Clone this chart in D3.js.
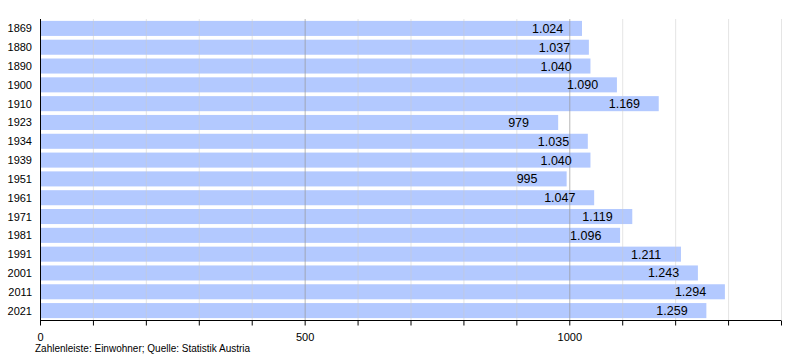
<!DOCTYPE html>
<html><head><meta charset="utf-8">
<script src="https://cdn.jsdelivr.net/npm/d3@7"></script>
<style>body{margin:0;background:#fff}svg{display:block;font-family:"Liberation Sans",Arial,sans-serif}</style>
</head><body><svg id="c" width="800" height="360"></svg>
<script>
const years = ["1869","1880","1890","1900","1910","1923","1934","1939","1951","1961","1971","1981","1991","2001","2011","2021"];
const population = [1024,1037,1040,1090,1169,979,1035,1040,995,1047,1119,1096,1211,1243,1294,1259];
const valueLabels = ["1.024","1.037","1.040","1.090","1.169","979","1.035","1.040","995","1.047","1.119","1.096","1.211","1.243","1.294","1.259"];
const xTickLabels = [0,500,1000];
const footer = "Zahlenleiste: Einwohner; Quelle: Statistik Austria";

const svg = d3.select("#c");
const x = d3.scaleLinear().domain([0,1400]).range([40,781]);
const y = d3.scaleBand().domain(years).range([19,320]).paddingInner(0.2).paddingOuter(0.1);

// bars
svg.append("g").selectAll("rect").data(years).join("rect")
  .attr("x", x(0)).attr("y", d=>y(d))
  .attr("width", (d,i)=>x(population[i])-x(0))
  .attr("height", y.bandwidth())
  .attr("fill","#b3c9ff");

// grid
const grid = d3.range(100,1401,100);
svg.append("g").selectAll("line").data(grid).join("line")
  .attr("x1",d=>x(d)+0.5).attr("x2",d=>x(d)+0.5)
  .attr("y1",19).attr("y2",320)
  .attr("stroke",d=>d%500===0?"#999":"#ccc")
  .attr("stroke-opacity",d=>d%500===0?0.7:0.5)
  .attr("stroke-width",1);

// value labels
svg.append("g").selectAll("text").data(years).join("text")
  .attr("x",(d,i)=>x(population[i])-50)
  .attr("y",d=>y(d)+y.bandwidth()/2+4.5)
  .attr("font-size",12.5).attr("fill","#000")
  .text((d,i)=>valueLabels[i]);

// y labels
svg.append("g").selectAll("text").data(years).join("text")
  .attr("x",32).attr("y",d=>y(d)+y.bandwidth()/2+4)
  .attr("text-anchor","end").attr("font-size",11).attr("fill","#000")
  .text(d=>d);

// axes lines
svg.append("line").attr("x1",40.5).attr("x2",40.5).attr("y1",19).attr("y2",321).attr("stroke","#000");
const xAxis = d3.axisBottom(x).tickValues(d3.range(0,1401,100)).tickSize(5)
  .tickFormat(d=>xTickLabels.includes(d)?d:"");
const gx = svg.append("g").attr("transform","translate(0,320.5)").call(xAxis);
gx.select(".domain").attr("stroke","#000").attr("d","M40,0H781");
gx.selectAll(".tick line").attr("stroke","#000");
gx.selectAll(".tick text").attr("font-size",11).attr("font-family","Liberation Sans, Arial, sans-serif").attr("dy","1.1em");

svg.append("text").attr("x",35).attr("y",352).attr("font-size",10).text(footer);
</script></body></html>
